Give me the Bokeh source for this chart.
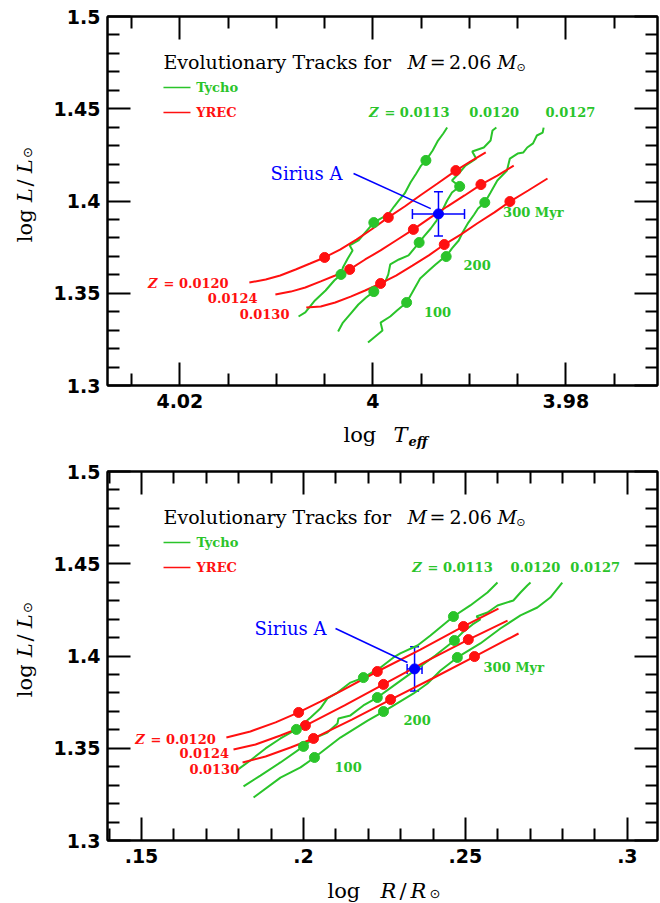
import math
from bokeh.plotting import figure
from bokeh.models import (Range1d, FixedTicker, LinearAxis, CustomJSTickFormatter, Label,
                          Whisker, TeeHead, ColumnDataSource)
from bokeh.layouts import column, row
from bokeh.embed import file_html
from bokeh.resources import INLINE

GREEN = "#2ac42a"
RED = "#ff1010"
BLUE = "#0000ff"

# ---------------- ticks ----------------
teff_major = [4.02, 4.00, 3.98]
teff_minor = [4.025, 4.015, 4.01, 4.005, 3.995, 3.99, 3.985, 3.975]
logl_major = [1.3, 1.35, 1.4, 1.45, 1.5]
logl_minor = [1.31, 1.32, 1.33, 1.34, 1.36, 1.37, 1.38, 1.39, 1.41, 1.42, 1.43, 1.44, 1.46, 1.47, 1.48, 1.49]
logr_major = [0.15, 0.2, 0.25, 0.3]
logr_minor = [0.14, 0.16, 0.17, 0.18, 0.19, 0.21, 0.22, 0.23, 0.24, 0.26, 0.27, 0.28, 0.29]

# ---------------- top panel: log Teff vs log L ----------------
yrec_teff_z0120 = [4.0128, 4.0111, 4.0096, 4.0080, 4.0065, 4.0050, 4.0034, 4.0017, 4.0000, 3.9984, 3.9967, 3.9951, 3.9933, 3.9914, 3.9899, 3.9883]
yrec_logl_z0120 = [1.3558, 1.3575, 1.3596, 1.3629, 1.3661, 1.3694, 1.3737, 1.3791, 1.3851, 1.3911, 1.3970, 1.4030, 1.4095, 1.4165, 1.4214, 1.4263]
yrec_teff_z0124 = [4.0101, 4.0085, 4.0070, 4.0054, 4.0039, 4.0024, 4.0008, 3.9992, 3.9976, 3.9958, 3.9940, 3.9923, 3.9905, 3.9888, 3.9871, 3.9854]
yrec_logl_z0124 = [1.3493, 1.3509, 1.3531, 1.3564, 1.3596, 1.3629, 1.3683, 1.3732, 1.3786, 1.3846, 1.3911, 1.3970, 1.4030, 1.4089, 1.4138, 1.4192]
yrec_teff_z0130 = [4.0069, 4.0054, 4.0039, 4.0023, 4.0008, 3.9992, 3.9976, 3.9959, 3.9942, 3.9926, 3.9909, 3.9892, 3.9874, 3.9858, 3.9839, 3.9819]
yrec_logl_z0130 = [1.3423, 1.3428, 1.3450, 1.3482, 1.3515, 1.3553, 1.3596, 1.3650, 1.3705, 1.3764, 1.3818, 1.3878, 1.3938, 1.3997, 1.4057, 1.4122]

tycho_teff_z0113 = [4.0077, 4.0070, 4.0060, 4.0049, 4.0040, 4.0033, 4.0031, 4.0026, 4.0021, 4.0024, 4.0015, 4.0008, 3.9999, 3.9992, 3.9984, 3.9978, 3.9973, 3.9967, 3.9961, 3.9955, 3.9950, 3.9945, 3.9938, 3.9933, 3.9927, 3.9923]
tycho_logl_z0113 = [1.3374, 1.3396, 1.3461, 1.3515, 1.3569, 1.3602, 1.3640, 1.3688, 1.3732, 1.3759, 1.3786, 1.3829, 1.3883, 1.3905, 1.3927, 1.3970, 1.4003, 1.4041, 1.4100, 1.4149, 1.4192, 1.4220, 1.4274, 1.4323, 1.4366, 1.4398]
tycho_teff_z0120 = [4.0036, 4.0031, 4.0023, 4.0015, 4.0007, 3.9999, 3.9995, 3.9987, 3.9984, 3.9982, 3.9973, 3.9963, 3.9957, 3.9952, 3.9947, 3.9940, 3.9934, 3.9929, 3.9923, 3.9918, 3.9910, 3.9918, 3.9911, 3.9904, 3.9893, 3.9897, 3.9885, 3.9878, 3.9876, 3.9872]
tycho_logl_z0120 = [1.3293, 1.3341, 1.3390, 1.3439, 1.3477, 1.3509, 1.3542, 1.3564, 1.3602, 1.3656, 1.3683, 1.3705, 1.3743, 1.3775, 1.3808, 1.3851, 1.3894, 1.3938, 1.4003, 1.4046, 1.4079, 1.4111, 1.4149, 1.4192, 1.4230, 1.4268, 1.4290, 1.4328, 1.4382, 1.4398]
tycho_teff_z0127 = [4.0005, 4.0000, 3.9990, 3.9992, 3.9982, 3.9975, 3.9965, 3.9958, 3.9951, 3.9942, 3.9935, 3.9930, 3.9924, 3.9918, 3.9911, 3.9907, 3.9901, 3.9895, 3.9891, 3.9884, 3.9878, 3.9871, 3.9861, 3.9858, 3.9850, 3.9844, 3.9840, 3.9834, 3.9830, 3.9824, 3.9823]
tycho_logl_z0127 = [1.3233, 1.3255, 1.3298, 1.3341, 1.3374, 1.3407, 1.3450, 1.3515, 1.3580, 1.3623, 1.3656, 1.3678, 1.3699, 1.3743, 1.3786, 1.3829, 1.3883, 1.3927, 1.3959, 1.3992, 1.4046, 1.4111, 1.4165, 1.4230, 1.4257, 1.4263, 1.4290, 1.4312, 1.4355, 1.4371, 1.4398]

# age markers (100, 200, 300 Myr)
yrec_dot_teff = [4.0050, 3.9984, 3.9914, 4.0024, 3.9958, 3.9888, 3.9992, 3.9926, 3.9858]
yrec_dot_logl = [1.3694, 1.3911, 1.4165, 1.3629, 1.3846, 1.4089, 1.3553, 1.3764, 1.3997]
tycho_dot_teff = [4.0033, 3.9999, 3.9945, 3.9999, 3.9952, 3.9910, 3.9965, 3.9924, 3.9884]
tycho_dot_logl = [1.3602, 1.3883, 1.4220, 1.3509, 1.3775, 1.4079, 1.3450, 1.3699, 1.3992]

# ---------------- bottom panel: log R vs log L ----------------
yrec_logr_z0120 = [0.1762, 0.1836, 0.1914, 0.1985, 0.2052, 0.2114, 0.2228, 0.2361, 0.2494, 0.2602]
yrec_logl_r_z0120 = [1.3558, 1.3591, 1.3640, 1.3694, 1.3753, 1.3808, 1.3916, 1.4035, 1.4160, 1.4257]
yrec_logr_z0124 = [0.1784, 0.1852, 0.1929, 0.2006, 0.2127, 0.2247, 0.2377, 0.2509, 0.2630]
yrec_logl_r_z0124 = [1.3493, 1.3520, 1.3569, 1.3623, 1.3732, 1.3846, 1.3970, 1.4089, 1.4192]
yrec_logr_z0130 = [0.1812, 0.1883, 0.1960, 0.2031, 0.2151, 0.2269, 0.2398, 0.2528, 0.2664]
yrec_logl_r_z0130 = [1.3423, 1.3455, 1.3504, 1.3553, 1.3656, 1.3764, 1.3878, 1.3997, 1.4122]

tycho_logr_z0113 = [0.1793, 0.1836, 0.1883, 0.1929, 0.1978, 0.2022, 0.2052, 0.2074, 0.2105, 0.2145, 0.2185, 0.2238, 0.2278, 0.2299, 0.2352, 0.2392, 0.2463, 0.2515, 0.2568, 0.2599]
tycho_logl_r_z0113 = [1.3379, 1.3434, 1.3499, 1.3553, 1.3602, 1.3667, 1.3715, 1.3770, 1.3802, 1.3856, 1.3883, 1.3938, 1.3992, 1.4014, 1.4057, 1.4111, 1.4214, 1.4274, 1.4344, 1.4398]
tycho_logr_z0120 = [0.1815, 0.1867, 0.1929, 0.2000, 0.2031, 0.2074, 0.2105, 0.2108, 0.2145, 0.2185, 0.2228, 0.2284, 0.2343, 0.2407, 0.2466, 0.2491, 0.2522, 0.2546, 0.2534, 0.2568, 0.2599, 0.2648, 0.2670, 0.2691, 0.2701]
tycho_logl_r_z0120 = [1.3293, 1.3352, 1.3423, 1.3510, 1.3553, 1.3585, 1.3634, 1.3661, 1.3678, 1.3732, 1.3775, 1.3846, 1.3921, 1.4003, 1.4084, 1.4127, 1.4171, 1.4198, 1.4214, 1.4236, 1.4274, 1.4301, 1.4344, 1.4382, 1.4398]
tycho_logr_z0127 = [0.1846, 0.1929, 0.1991, 0.2034, 0.2114, 0.2198, 0.2247, 0.2340, 0.2383, 0.2423, 0.2475, 0.2546, 0.2608, 0.2670, 0.2722, 0.2762, 0.2799]
tycho_logl_r_z0127 = [1.3233, 1.3341, 1.3396, 1.3450, 1.3558, 1.3650, 1.3699, 1.3797, 1.3851, 1.3921, 1.3992, 1.4068, 1.4149, 1.4220, 1.4263, 1.4317, 1.4398]

yrec_dot_logr = [0.1985, 0.2228, 0.2494, 0.2006, 0.2247, 0.2509, 0.2031, 0.2269, 0.2528]
yrec_dot_logl_r = [1.3694, 1.3916, 1.4160, 1.3623, 1.3846, 1.4089, 1.3553, 1.3764, 1.3997]
tycho_dot_logr = [0.1978, 0.2185, 0.2463, 0.2000, 0.2228, 0.2466, 0.2034, 0.2247, 0.2475]
tycho_dot_logl_r = [1.3602, 1.3883, 1.4214, 1.3510, 1.3775, 1.4084, 1.3450, 1.3699, 1.3992]

# Sirius A
sirius_teff, sirius_teff_err = 3.9932, 0.0027
sirius_logr, sirius_logr_err = 0.2343, 0.0023
sirius_logl, sirius_logl_err = 1.393, 0.012

SERIF = "DejaVu Serif"
SANS = "DejaVu Sans"


def txt(p, x, y, s, size, color="black", font=SERIF, style="normal",
        align="left", baseline="middle", angle=0.0):
    p.add_layout(Label(x=x, y=y, text=s, text_font=font, text_font_size=f"{size}px",
                       text_font_style=style, text_color=color, text_align=align,
                       text_baseline=baseline, angle=angle))


def make_fig(xr, xmaj, xmin, xcode):
    p = figure(width=610, height=417, x_range=xr, y_range=Range1d(1.3, 1.5),
               output_backend="svg", toolbar_location=None,
               min_border_left=57, min_border_right=3,
               min_border_top=16, min_border_bottom=32)
    p.xgrid.visible = False
    p.ygrid.visible = False
    p.outline_line_color = "black"
    p.outline_line_width = 2
    p.background_fill_color = "white"
    p.border_fill_color = "white"

    xt = FixedTicker(ticks=xmaj, minor_ticks=xmin)
    yt = FixedTicker(ticks=logl_major, minor_ticks=logl_minor)
    yfmt = CustomJSTickFormatter(code="return Number(tick.toFixed(3)).toString();")
    xfmt = CustomJSTickFormatter(code=xcode)
    blank = CustomJSTickFormatter(code="return '';")

    def style(ax, show):
        ax.major_tick_in = 23
        ax.major_tick_out = 0
        ax.minor_tick_in = 12
        ax.minor_tick_out = 0
        ax.major_tick_line_width = 2
        ax.minor_tick_line_width = 2
        ax.axis_line_width = 2
        ax.major_tick_line_color = "black"
        ax.minor_tick_line_color = "black"
        ax.axis_line_color = "black"
        if show:
            ax.major_label_text_font = SANS
            ax.major_label_text_font_style = "bold"
            ax.major_label_text_font_size = "19px"
            ax.major_label_text_color = "black"
        else:
            ax.major_label_text_font_size = "0px"
            ax.major_label_text_color = None
            ax.major_label_standoff = 0

    xa = p.xaxis[0]
    xa.ticker = xt
    xa.formatter = xfmt
    style(xa, True)
    xa.major_label_standoff = 8
    ya = p.yaxis[0]
    ya.ticker = yt
    ya.formatter = yfmt
    style(ya, True)
    ya.major_label_standoff = 7

    top_ax = LinearAxis(ticker=xt, formatter=blank)
    style(top_ax, False)
    p.add_layout(top_ax, "above")
    right_ax = LinearAxis(ticker=yt, formatter=blank)
    style(right_ax, False)
    p.add_layout(right_ax, "right")
    return p


def label_fig(w, h):
    f = figure(width=w, height=h, x_range=Range1d(0, w), y_range=Range1d(h, 0),
               output_backend="svg", toolbar_location=None,
               x_axis_type=None, y_axis_type=None,
               min_border_left=0, min_border_right=0, min_border_top=0, min_border_bottom=0)
    f.outline_line_color = None
    f.background_fill_color = "white"
    f.border_fill_color = "white"
    return f


def draw_tracks(p, tracks_red, tracks_green, red_dots, green_dots):
    for xs, ys in tracks_green:
        p.line(xs, ys, line_color=GREEN, line_width=2)
    for xs, ys in tracks_red:
        p.line(xs, ys, line_color=RED, line_width=2)
    p.scatter(red_dots[0], red_dots[1], size=10, fill_color=RED, line_color=RED)
    p.scatter(green_dots[0], green_dots[1], size=10, fill_color=GREEN, line_color=GREEN)


def draw_sirius(p, x, xerr, y, yerr, cap_v, cap_h):
    src = ColumnDataSource(dict(x=[x], y=[y], xl=[x - xerr], xu=[x + xerr],
                                yl=[y - yerr], yu=[y + yerr]))
    p.add_layout(Whisker(source=src, base="y", lower="xl", upper="xu", dimension="width",
                         line_color=BLUE, line_width=1.5,
                         upper_head=TeeHead(size=cap_h, line_color=BLUE, line_width=1.5),
                         lower_head=TeeHead(size=cap_h, line_color=BLUE, line_width=1.5)))
    p.add_layout(Whisker(source=src, base="x", lower="yl", upper="yu", dimension="height",
                         line_color=BLUE, line_width=1.5,
                         upper_head=TeeHead(size=cap_v, line_color=BLUE, line_width=1.5),
                         lower_head=TeeHead(size=cap_v, line_color=BLUE, line_width=1.5)))
    p.scatter([x], [y], size=10, fill_color=BLUE, line_color=BLUE)


def decorate(p, pos):
    # title
    txt(p, pos["t0"], 1.4756, "Evolutionary Tracks for", 19)
    txt(p, pos["t1"], 1.4756, "M", 19, style="italic")
    txt(p, pos["t2"], 1.4756, "=", 19)
    txt(p, pos["t3"], 1.4756, "2.06", 19)
    txt(p, pos["t4"], 1.4756, "M", 19, style="italic")
    txt(p, pos["t5"], 1.4722, "\u2299", 11, font=SANS)
    # legend
    p.line([pos["l0"], pos["l1"]], [1.4615, 1.4615], line_color=GREEN, line_width=1.5)
    p.line([pos["l0"], pos["l1"]], [1.4480, 1.4480], line_color=RED, line_width=1.5)
    txt(p, pos["l2"], 1.4615, "Tycho", 13, color=GREEN, style="bold")
    txt(p, pos["l2"], 1.4480, "YREC", 13, color=RED, style="bold")
    # green Z labels
    txt(p, pos["gz"], 1.4480, "Z", 13, color=GREEN, style="bold italic")
    txt(p, pos["gz1"], 1.4480, "= 0.0113", 13, color=GREEN, style="bold")
    txt(p, pos["gz2"], 1.4480, "0.0120", 13, color=GREEN, style="bold")
    txt(p, pos["gz3"], 1.4480, "0.0127", 13, color=GREEN, style="bold")
    # red Z labels
    txt(p, pos["rz"], pos["rzy"], "Z", 13, color=RED, style="bold italic")
    txt(p, pos["rz1"], pos["rzy"], "= 0.0120", 13, color=RED, style="bold")
    txt(p, pos["rz2"], 1.3472, "0.0124", 13, color=RED, style="bold")
    txt(p, pos["rz3"], 1.3390, "0.0130", 13, color=RED, style="bold")
    # ages
    txt(p, pos["a3"], 1.3935, "300 Myr", 13, color=GREEN, style="bold")
    txt(p, pos["a2"], 1.3653, "200", 13, color=GREEN, style="bold")
    txt(p, pos["a1"], 1.3399, "100", 13, color=GREEN, style="bold")
    # Sirius label & pointer
    txt(p, pos["s0"], 1.4149, "Sirius A", 18, color=BLUE)
    p.line([pos["s1"], pos["s2"]], [1.4149, pos["s2y"]], line_color=BLUE, line_width=1.5)


def ylabel_fig():
    f = label_fig(50, 417)
    ang = math.pi / 2
    bx = 24
    txt(f, bx, 255, "log", 21, baseline="alphabetic", angle=ang)
    txt(f, bx, 210, "L", 21, style="italic", baseline="alphabetic", angle=ang)
    txt(f, bx, 192, "/", 21, baseline="alphabetic", angle=ang)
    txt(f, bx, 177, "L", 21, style="italic", baseline="alphabetic", angle=ang)
    txt(f, bx + 3, 160, "\u2299", 13, font=SANS, baseline="alphabetic", angle=ang)
    return f


# ---------------- top figure ----------------
p1 = make_fig(Range1d(4.0275, 3.9705), teff_major, teff_minor,
              "return Number(tick.toFixed(3)).toString();")
draw_tracks(p1,
            [(yrec_teff_z0120, yrec_logl_z0120), (yrec_teff_z0124, yrec_logl_z0124),
             (yrec_teff_z0130, yrec_logl_z0130)],
            [(tycho_teff_z0113, tycho_logl_z0113), (tycho_teff_z0120, tycho_logl_z0120),
             (tycho_teff_z0127, tycho_logl_z0127)],
            (yrec_dot_teff, yrec_dot_logl), (tycho_dot_teff, tycho_dot_logl))
draw_sirius(p1, sirius_teff, sirius_teff_err, sirius_logl, sirius_logl_err, 9, 10)
decorate(p1, dict(t0=4.0217, t1=3.9964, t2=3.9941, t3=3.9921, t4=3.9871, t5=3.9851,
                  l0=4.0217, l1=4.0189, l2=4.0183,
                  gz=4.0004, gz1=3.9988, gz2=3.9900, gz3=3.9821,
                  rz=4.0233, rz1=4.0217, rzy=1.3553, rz2=4.0171, rz3=4.0138,
                  a3=3.9865, a2=3.9906, a1=3.9947,
                  s0=4.0106, s1=4.0020, s2=3.9940, s2y=1.3959))

xl1 = label_fig(660, 38)
txt(xl1, 343, 17, "log", 21, baseline="alphabetic")
txt(xl1, 393, 17, "T", 21, style="italic", baseline="alphabetic")
txt(xl1, 408, 24, "eff", 13, style="bold italic", baseline="alphabetic")

# ---------------- bottom figure ----------------
p2 = make_fig(Range1d(0.1395, 0.3093), logr_major, logr_minor,
              "return Number(tick.toFixed(3)).toString().replace(/^0/, '');")
draw_tracks(p2,
            [(yrec_logr_z0120, yrec_logl_r_z0120), (yrec_logr_z0124, yrec_logl_r_z0124),
             (yrec_logr_z0130, yrec_logl_r_z0130)],
            [(tycho_logr_z0113, tycho_logl_r_z0113), (tycho_logr_z0120, tycho_logl_r_z0120),
             (tycho_logr_z0127, tycho_logl_r_z0127)],
            (yrec_dot_logr, yrec_dot_logl_r), (tycho_dot_logr, tycho_dot_logl_r))
draw_sirius(p2, sirius_logr, sirius_logr_err, sirius_logl, sirius_logl_err, 9, 10)
decorate(p2, dict(t0=0.1568, t1=0.2321, t2=0.2389, t3=0.2451, t4=0.2599, t5=0.2657,
                  l0=0.1568, l1=0.1651, l2=0.1670,
                  gz=0.2336, gz1=0.2383, gz2=0.2639, gz3=0.2824,
                  rz=0.1481, rz1=0.1528, rzy=1.3547, rz2=0.1617, rz3=0.1648,
                  a3=0.2556, a2=0.2309, a1=0.2096,
                  s0=0.1849, s1=0.2099, s2=0.2321, s2y=1.3965))

xl2 = label_fig(660, 31)
txt(xl2, 327, 18, "log", 21, baseline="alphabetic")
txt(xl2, 380, 18, "R", 21, style="italic", baseline="alphabetic")
txt(xl2, 399, 18, "/", 21, baseline="alphabetic")
txt(xl2, 410, 18, "R", 21, style="italic", baseline="alphabetic")
txt(xl2, 429, 21, "\u2299", 13, font=SANS, baseline="alphabetic")

layout = column(row(ylabel_fig(), p1, spacing=0), xl1,
                row(ylabel_fig(), p2, spacing=0), xl2, spacing=0)
open("out.html", "w").write(file_html(layout, INLINE))
